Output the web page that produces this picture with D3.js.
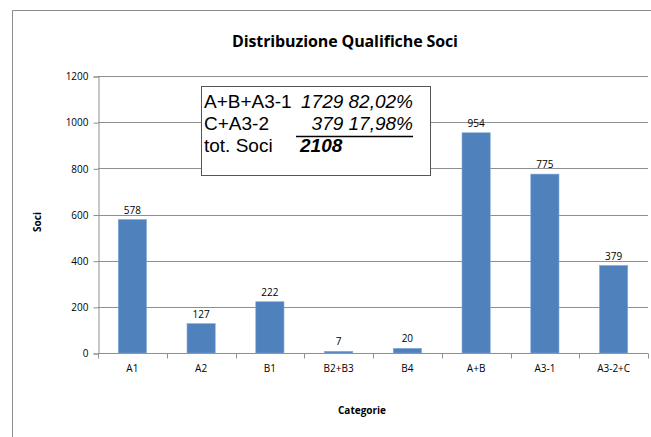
<!DOCTYPE html>
<html>
<head>
<meta charset="utf-8">
<script src="https://cdn.jsdelivr.net/npm/d3@7"></script>
<style>
  body { margin: 0; background: #fff; }
</style>
</head>
<body>
<script>
// chart size
var w = 651;
var h = 437;

// data
var categories = ["A1", "A2", "B1", "B2+B3", "B4", "A+B", "A3-1", "A3-2+C"];
var soci = [578, 127, 222, 7, 20, 954, 775, 379];
var yTicks = [0, 200, 400, 600, 800, 1000, 1200];

// box text
var boxLabels = ["A+B+A3-1", "C+A3-2", "tot. Soci"];
var boxValues = ["1729 82,02%", "379 17,98%", "2108"];

var margin = {left: 98, right: 3, top: 76, bottom: 84};
var boxFont = "Liberation Sans, Arial, sans-serif";

var svg = d3.select("body")
            .append("svg")
            .attr("width", w)
            .attr("height", h)
            .attr("font-family", "Open Sans, sans-serif");

// outer frame (only left and top visible)
svg.append("path")
    .attr("d", "M12.5," + h + "V10.5H" + w)
    .attr("fill", "none")
    .attr("stroke", "#8c8c8c");

var xScale = d3.scaleBand()
        .domain(categories)
        .range([margin.left, w - margin.right])
        .paddingInner(0.59)
        .paddingOuter(0.295);

var yScale = d3.scaleLinear()
        .domain([0, 1200])
        .range([h - margin.bottom, margin.top]);

// gridlines
svg.append("g")
    .selectAll("line")
    .data(yTicks.slice(1))
    .enter()
    .append("line")
    .attr("x1", margin.left)
    .attr("x2", w - margin.right)
    .attr("y1", function(d) { return Math.round(yScale(d)) + 0.5; })
    .attr("y2", function(d) { return Math.round(yScale(d)) + 0.5; })
    .attr("stroke", "#8f8f8f");

// y axis
var yAxis = d3.axisLeft(yScale)
        .tickValues(yTicks)
        .tickFormat(d3.format("d"))
        .tickSize(5)
        .tickPadding(5);

var gy = svg.append("g")
    .attr("transform", "translate(" + (margin.left + 0.5) + ",0.5)")
    .call(yAxis);
gy.select(".domain").attr("stroke", "#8f8f8f");
gy.selectAll(".tick line").attr("stroke", "#8f8f8f");
gy.selectAll("text")
    .attr("font-size", 10)
    .attr("font-family", "Open Sans, sans-serif")
    .attr("fill", "#000");

// x axis
var gx = svg.append("g")
    .attr("transform", "translate(0," + (Math.round(yScale(0)) + 0.5) + ")");
gx.append("line")
    .attr("x1", margin.left)
    .attr("x2", w - margin.right)
    .attr("stroke", "#8f8f8f");
var step = xScale.step();
gx.selectAll("line.tk")
    .data(d3.range(categories.length + 1))
    .enter()
    .append("line")
    .attr("class", "tk")
    .attr("x1", function(i) { return Math.round(margin.left + i * step) + 0.5; })
    .attr("x2", function(i) { return Math.round(margin.left + i * step) + 0.5; })
    .attr("y1", 0)
    .attr("y2", 5)
    .attr("stroke", "#8f8f8f");
gx.selectAll("text")
    .data(categories)
    .enter()
    .append("text")
    .attr("x", function(d) { return xScale(d) + xScale.bandwidth() / 2; })
    .attr("y", 18)
    .attr("text-anchor", "middle")
    .attr("font-size", 10)
    .text(function(d) { return d; });

// bars
svg.selectAll("rect.bar")
    .data(soci)
    .enter()
    .append("rect")
    .attr("class", "bar")
    .attr("x", function(d, i) { return xScale(categories[i]); })
    .attr("y", function(d) { return yScale(d); })
    .attr("width", xScale.bandwidth())
    .attr("height", function(d) { return yScale(0) - yScale(d); })
    .attr("fill", "#4f81bd")
    .attr("stroke", "#7ea6d6")
    .attr("stroke-width", 0.6);

// value labels
svg.selectAll("text.val")
    .data(soci)
    .enter()
    .append("text")
    .attr("class", "val")
    .attr("x", function(d, i) { return xScale(categories[i]) + xScale.bandwidth() / 2; })
    .attr("y", function(d) { return yScale(d) - 6; })
    .attr("text-anchor", "middle")
    .attr("font-size", 10)
    .text(function(d) { return d; });

// title
svg.append("text")
    .attr("x", 345)
    .attr("y", 47)
    .attr("text-anchor", "middle")
    .attr("font-size", 16)
    .attr("font-weight", "bold")
    .attr("textLength", 226)
    .text("Distribuzione Qualifiche Soci");

// axis titles
svg.append("text")
    .attr("transform", "translate(41,222) rotate(-90)")
    .attr("text-anchor", "middle")
    .attr("font-size", 10)
    .attr("font-weight", "bold")
    .text("Soci");

svg.append("text")
    .attr("x", 362)
    .attr("y", 414)
    .attr("text-anchor", "middle")
    .attr("font-size", 10)
    .attr("font-weight", "bold")
    .text("Categorie");

// text box
var box = svg.append("g");
box.append("rect")
    .attr("x", 201.5)
    .attr("y", 86.5)
    .attr("width", 229)
    .attr("height", 89)
    .attr("fill", "#fff")
    .attr("stroke", "#555");

var rowY = [108, 130, 152];
box.selectAll("text.lab")
    .data(boxLabels)
    .enter()
    .append("text")
    .attr("class", "lab")
    .attr("x", 204)
    .attr("y", function(d, i) { return rowY[i]; })
    .attr("font-family", boxFont)
    .attr("font-size", 19)
    .text(function(d) { return d; });

box.selectAll("text.num")
    .data(boxValues)
    .enter()
    .append("text")
    .attr("class", "num")
    .attr("x", function(d, i) { return i < 2 ? 413 : 300; })
    .attr("y", function(d, i) { return rowY[i]; })
    .attr("text-anchor", function(d, i) { return i < 2 ? "end" : "start"; })
    .attr("font-family", boxFont)
    .attr("font-size", 19)
    .attr("font-style", "italic")
    .attr("font-weight", function(d, i) { return i == 2 ? "bold" : "normal"; })
    .text(function(d) { return d; });

// underline under second row
box.append("line")
    .attr("x1", 296)
    .attr("x2", 413)
    .attr("y1", 136.5)
    .attr("y2", 136.5)
    .attr("stroke", "#000")
    .attr("stroke-width", 1.5);
</script>
</body>
</html>
